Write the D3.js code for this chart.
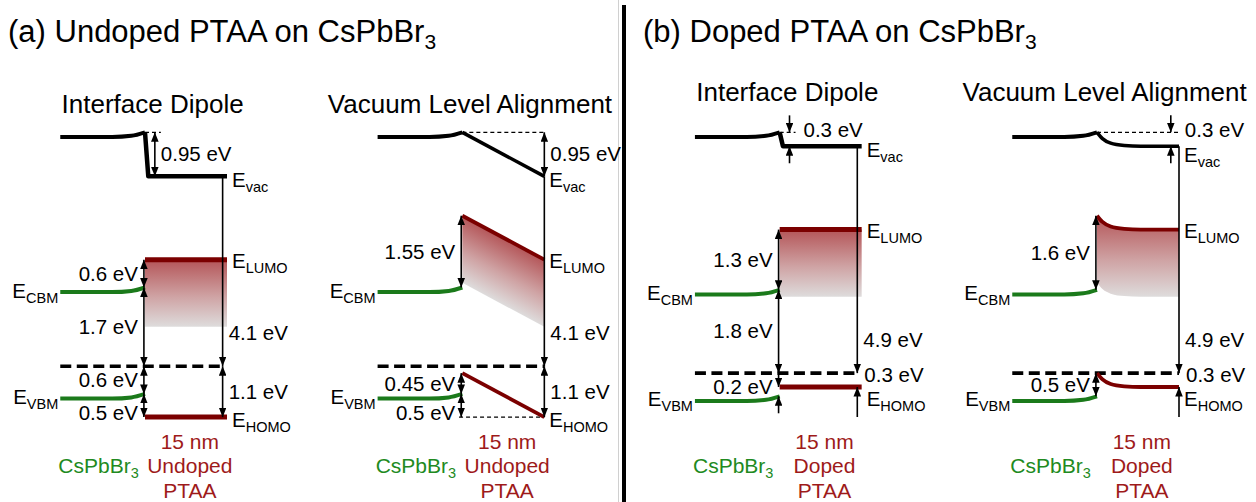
<!DOCTYPE html>
<html>
<head>
<meta charset="utf-8">
<script src="https://cdn.jsdelivr.net/npm/d3@7"></script>
<style>
  html, body { margin: 0; padding: 0; background: #fff; }
  svg { display: block; font-family: "Liberation Sans", Arial, Helvetica, sans-serif; }
</style>
</head>
<body>
<svg id="chart" width="1256" height="502"></svg>
<script>
// ---------------- data ----------------
const groupTitles = ["(a) Undoped PTAA on CsPbBr", "(b) Doped PTAA on CsPbBr"];
const panelGroup = [0, 0, 1, 1];
const panelTitles = ["Interface Dipole", "Vacuum Level Alignment", "Interface Dipole", "Vacuum Level Alignment"];
const ptaaShape = ["step", "linear", "step", "decay"];
const ptaaLabels = [
  ["15 nm", "Undoped", "PTAA"],
  ["15 nm", "Undoped", "PTAA"],
  ["15 nm", "Doped", "PTAA"],
  ["15 nm", "Doped", "PTAA"]
];
const perovskiteName = "CsPbBr";

// energies in eV, relative to the Fermi level of each panel
const vacPTAA       = [4.1, 4.1, 4.9, 4.9];      // PTAA vacuum level far from the interface
const vacShift      = [0.95, 0.95, 0.3, 0.3];    // vacuum level offset at the interface
const cbmInterface  = [1.7, 1.7, 1.8, 1.8];
const vbmInterface  = [-0.6, -0.6, -0.5, -0.5];
const homoInterface = [-1.1, -0.15, -0.3, 0.0];
const homoBulk      = [-1.1, -1.1, -0.3, -0.3];
const ptaaGap = 3.4;       // PTAA HOMO-LUMO gap
const bandBending = 0.1;   // upward bending of the CsPbBr3 bands at the interface
const lumoTail = 1.45;     // extent of the shaded LUMO tail states

// band profiles: [depth from interface (nm), fraction of the interface offset]
const perovskiteBend = [[-15.5, 0], [-6, 0], [-2.5, 0.25], [0, 1]];
const profiles = {
  step:   [[0, 1], [0.6, 0], [15, 0]],
  linear: [[0, 1], [15, 0]],
  decay:  [[0, 1], [1, 0.55], [2.5, 0.22], [5, 0.05], [8, 0], [15, 0]]
};

// energy differences marked with arrows
const annotations = [
  { panel: 0, at: "dipole", from: "vacInt",   to: "vacPTAA",  head: "both" },
  { panel: 0, at: "bulk",   from: "vacPTAA",  to: "fermi",    head: "end" },
  { panel: 0, at: "bulk",   from: "fermi",    to: "homoBulk", head: "both" },
  { panel: 0, at: "iface",  from: "lumoInt",  to: "cbmInt",   head: "both" },
  { panel: 0, at: "iface",  from: "cbmInt",   to: "fermi",    head: "both" },
  { panel: 0, at: "iface",  from: "fermi",    to: "vbmInt",   head: "both" },
  { panel: 0, at: "iface",  from: "vbmInt",   to: "homoBulk", head: "both" },

  { panel: 1, at: "bulk",   from: "vacInt",   to: "vacPTAA",  head: "both" },
  { panel: 1, at: "bulk",   from: "vacPTAA",  to: "fermi",    head: "end" },
  { panel: 1, at: "bulk",   from: "fermi",    to: "homoBulk", head: "both" },
  { panel: 1, at: "iface",  from: "lumoInt",  to: "cbmInt",   head: "both" },
  { panel: 1, at: "iface",  from: "homoInt",  to: "vbmInt",   head: "both" },
  { panel: 1, at: "iface",  from: "vbmInt",   to: "homoBulk", head: "both" },

  { panel: 2, at: "dipole", from: "vacInt",   to: "vacPTAA",  head: "out" },
  { panel: 2, at: "bulk",   from: "vacPTAA",  to: "fermi",    head: "end" },
  { panel: 2, at: "bulk",   from: "fermi",    to: "homoBulk", head: "below" },
  { panel: 2, at: "iface",  from: "lumoInt",  to: "cbmInt",   head: "both" },
  { panel: 2, at: "iface",  from: "cbmInt",   to: "fermi",    head: "both" },
  { panel: 2, at: "iface",  from: "homoBulk", to: "vbmInt",   head: "out" },

  { panel: 3, at: "inner",  from: "vacInt",   to: "vacPTAA",  head: "out" },
  { panel: 3, at: "bulk",   from: "vacPTAA",  to: "fermi",    head: "end" },
  { panel: 3, at: "bulk",   from: "fermi",    to: "homoBulk", head: "below" },
  { panel: 3, at: "iface",  from: "lumoInt",  to: "cbmInt",   head: "both" },
  { panel: 3, at: "iface",  from: "homoInt",  to: "vbmInt",   head: "both" }
];

// ---------------- drawing ----------------
const GREEN = "#1b7a1b", GREEN_TEXT = "#218a21";
const RED = "#7b0000", RED_TEXT = "#9e1a1a";
const FS = 20.5, SUB_FS = 14.5;

const svg = d3.select("#chart");
const defs = svg.append("defs");

defs.append("marker")
  .attr("id", "head")
  .attr("viewBox", "0 0 10 8")
  .attr("refX", 10).attr("refY", 4)
  .attr("markerWidth", 9.5).attr("markerHeight", 7.6)
  .attr("markerUnits", "userSpaceOnUse")
  .attr("orient", "auto-start-reverse")
  .append("path").attr("d", "M0,0L10,4L0,8Z").attr("fill", "#000");

// scales: one energy axis shared by all panels (zero = bulk CsPbBr3 vacuum level)
const yScale = d3.scaleLinear().domain([0, -6.1]).range([137, 137 + 6.1 * 46.3]);
const panelX = d3.scaleLinear().domain([0, 3]).range([145, 1097]); // interface position
const depthX = d3.scaleLinear().domain([0, 15]).range([0, 82]);     // nm -> px

function levels(p) {
  const vacInt = vacPTAA[p] + vacShift[p];
  return {
    fermi: 0,
    vacInt,
    vacPTAA: vacPTAA[p],
    vacBulk: vacInt - bandBending,
    lumoInt: homoInterface[p] + ptaaGap,
    lumoBulk: homoBulk[p] + ptaaGap,
    homoInt: homoInterface[p],
    homoBulk: homoBulk[p],
    cbmInt: cbmInterface[p],
    vbmInt: vbmInterface[p],
    cbmBulk: cbmInterface[p] - bandBending,
    vbmBulk: vbmInterface[p] - bandBending
  };
}
const L = d3.range(4).map(levels);
const X = (p, d) => panelX(p) + depthX(d);
const Y = (p, e) => yScale(e - L[p].vacBulk);

const fmt = d3.format(".2~f");

function label(g, x, y, main, sub, opt = {}) {
  const t = g.append("text")
    .attr("x", x).attr("y", y)
    .attr("font-size", opt.size || FS)
    .attr("fill", opt.color || "#000")
    .attr("text-anchor", opt.anchor || "start");
  t.append("tspan").text(main);
  if (sub) {
    t.append("tspan").attr("font-size", opt.subSize || SUB_FS).attr("dy", opt.subDy || 5).text(sub);
  }
  return t;
}

// separator between (a) and (b)
svg.append("line").attr("x1", 618.5).attr("x2", 618.5).attr("y1", 0).attr("y2", 502)
  .attr("stroke", "#d0d0d0").attr("stroke-width", 1);
svg.append("line").attr("x1", 624).attr("x2", 624).attr("y1", 5).attr("y2", 502)
  .attr("stroke", "#000").attr("stroke-width", 4);

// group titles
const groupLeft = [8, 643];
groupTitles.forEach((t, i) => {
  label(svg, groupLeft[i], 42, t, "3", { size: 31, subSize: 21, subDy: 7 });
});

const lineMono = d3.line().curve(d3.curveMonotoneX);

d3.range(4).forEach(p => {
  const g = svg.append("g");
  const lv = L[p];
  const shape = ptaaShape[p];
  const prof = profiles[shape];
  const ptaaCurve = shape === "decay" ? d3.curveMonotoneX : d3.curveLinear;
  const ptaaLine = d3.line().curve(ptaaCurve);
  const xStart = X(p, -15.5), xIface = X(p, 0), xEnd = X(p, 15);
  const mine = annotations.filter(a => a.panel === p);

  // panel title
  label(g, X(p, 1.4), panelGroup[p] === 0 ? 113 : 101, panelTitles[p], null,
        { size: 26, anchor: "middle" });

  // PTAA level at a given depth, from its far value and interface offset
  const ptaaPts = (bulk, offset) => prof.map(([d, f]) => [X(p, d), Y(p, bulk + offset * f)]);
  const homoOffset = lv.homoInt - lv.homoBulk;

  // shaded LUMO tail
  const gid = "tail" + p;
  const grad = defs.append("linearGradient").attr("id", gid)
    .attr("gradientUnits", "userSpaceOnUse")
    .attr("x1", xIface).attr("x2", xIface);
  if (shape === "linear") {
    const slope = (Y(p, lv.lumoBulk) - Y(p, lv.lumoInt)) / (xEnd - xIface);
    const ang = Math.atan(slope) * 180 / Math.PI;
    grad.attr("y1", Y(p, lv.lumoInt)).attr("y2", Y(p, lv.lumoInt - lumoTail))
      .attr("gradientTransform", `translate(${xIface},0) skewY(${ang}) translate(${-xIface},0)`);
  } else {
    grad.attr("y1", Y(p, lv.lumoInt)).attr("y2", Y(p, lv.lumoBulk - lumoTail));
  }
  grad.append("stop").attr("offset", 0).attr("stop-color", "#b45558");
  grad.append("stop").attr("offset", 0.55).attr("stop-color", "#cfa3a4");
  grad.append("stop").attr("offset", 1).attr("stop-color", "#dedcdc");

  const tailArea = d3.area().curve(ptaaCurve)
    .x(d => X(p, d[0]))
    .y1(d => Y(p, lv.lumoBulk + homoOffset * d[1]))
    .y0(d => Y(p, lv.lumoBulk + homoOffset * d[1] - lumoTail));
  g.append("path").attr("d", tailArea(prof)).attr("fill", `url(#${gid})`);

  // dashed guides to levels that are not drawn where an arrow ends
  mine.forEach(a => {
    [a.from, a.to].forEach(k => {
      let x0 = null, x1 = null;
      if (k === "vacInt" && a.at !== "iface") {
        x0 = xIface; x1 = a.at === "dipole" ? X(p, 2.9) : xEnd;
      }
      if (k === "homoBulk" && a.at === "iface" && homoOffset !== 0) {
        x0 = X(p, -0.6); x1 = xEnd;
      }
      if (x0 !== null) {
        g.append("line").attr("x1", x0).attr("x2", x1)
          .attr("y1", Y(p, lv[k])).attr("y2", Y(p, lv[k]))
          .attr("stroke", "#000").attr("stroke-width", 1.3).attr("stroke-dasharray", "4,3");
      }
    });
  });

  // Fermi level
  const xBulkArrow = shape === "step" ? X(p, 14.2) : xEnd;
  g.append("line").attr("x1", xStart).attr("x2", xBulkArrow)
    .attr("y1", Y(p, 0)).attr("y2", Y(p, 0))
    .attr("stroke", "#000").attr("stroke-width", 3.6).attr("stroke-dasharray", "11,5.5");

  // CsPbBr3 bands with upward bending toward the interface
  const bendPts = e => perovskiteBend.map(([d, f]) => [X(p, d), Y(p, e - bandBending * (1 - f))]);
  g.append("path").attr("d", lineMono(bendPts(lv.vacInt)))
    .attr("fill", "none").attr("stroke", "#000").attr("stroke-width", 4);
  [lv.cbmInt, lv.vbmInt].forEach(e => {
    g.append("path").attr("d", lineMono(bendPts(e)))
      .attr("fill", "none").attr("stroke", GREEN).attr("stroke-width", 4);
  });

  // PTAA vacuum level, LUMO and HOMO
  const bandW = shape === "step" ? 5 : 3.8;
  g.append("path").attr("d", ptaaLine(ptaaPts(lv.vacPTAA, vacShift[p])))
    .attr("fill", "none").attr("stroke", "#000")
    .attr("stroke-width", shape === "step" ? 4.5 : 3.5).attr("stroke-linejoin", "round");
  [lv.lumoBulk, lv.homoBulk].forEach(e => {
    g.append("path").attr("d", ptaaLine(ptaaPts(e, homoOffset)))
      .attr("fill", "none").attr("stroke", RED).attr("stroke-width", bandW);
  });

  // arrows
  const atX = {
    iface: X(p, -0.2),
    dipole: X(p, 1.8),
    inner: X(p, 13.5),
    bulk: xBulkArrow
  };
  const hasBelow = mine.some(a => a.head === "below");
  const hasInner = mine.some(a => a.at === "inner");

  mine.forEach(a => {
    const x = atX[a.at];
    const y0 = Y(p, lv[a.from]), y1 = Y(p, lv[a.to]);
    const top = Math.min(y0, y1), bot = Math.max(y0, y1);
    const mid = (top + bot) / 2;
    const txt = fmt(Math.abs(lv[a.from] - lv[a.to])) + " eV";
    const arrow = (ya, yb, startHead, endHead) => {
      const ln = g.append("line").attr("x1", x).attr("x2", x).attr("y1", ya).attr("y2", yb)
        .attr("stroke", "#000").attr("stroke-width", 1.6);
      if (startHead) ln.attr("marker-start", "url(#head)");
      if (endHead) ln.attr("marker-end", "url(#head)");
    };
    let ly = mid + 7, lx = a.at === "iface" ? x - 6 : x + 6;
    if (a.head === "both") {
      arrow(y0, y1, true, true);
      // short step right above the HOMO: keep its label clear of the one above
      if (a.to === "homoBulk" && a.at === "iface") ly = bot + 3;
    } else if (a.head === "end") {
      arrow(y0, y1, false, true);
      ly = y1 - 26;
    } else if (a.head === "out") {
      arrow(top - 17, top, false, true);
      arrow(bot + 17, bot, false, true);
      if (a.at === "iface") {
        ly = mid + 2;
      } else {
        ly = top + 5;
        lx = x + 14;
      }
    } else if (a.head === "below") {
      arrow(bot + 30, bot, false, true);
      ly = mid + 2;
      lx = x + 7;
    }
    label(g, lx, ly, txt, null, { anchor: a.at === "iface" ? "end" : "start" });
  });

  // level names
  label(g, xEnd + 5, Y(p, lv.vacPTAA) + (hasInner ? 16 : 11), "E", "vac");
  label(g, xEnd + 5, Y(p, lv.lumoBulk) + 8, "E", "LUMO");
  label(g, xEnd + 5, Y(p, lv.homoBulk) + (hasBelow ? 19 : 10), "E", "HOMO");
  label(g, xStart - 2, Y(p, lv.cbmBulk) + 6, "E", "CBM", { anchor: "end" });
  label(g, xStart - 2, Y(p, lv.vbmBulk) + 5, "E", "VBM", { anchor: "end" });

  // layer names
  label(g, X(p, -8.5), 473, perovskiteName, "3", { color: GREEN_TEXT, size: 21, anchor: "middle" });
  const rows = [449, 473, 498];
  ptaaLabels[p].forEach((t, i) => {
    label(g, X(p, 8.2), rows[i], t, null, { color: RED_TEXT, size: 21, anchor: "middle" });
  });
});
</script>
</body>
</html>
